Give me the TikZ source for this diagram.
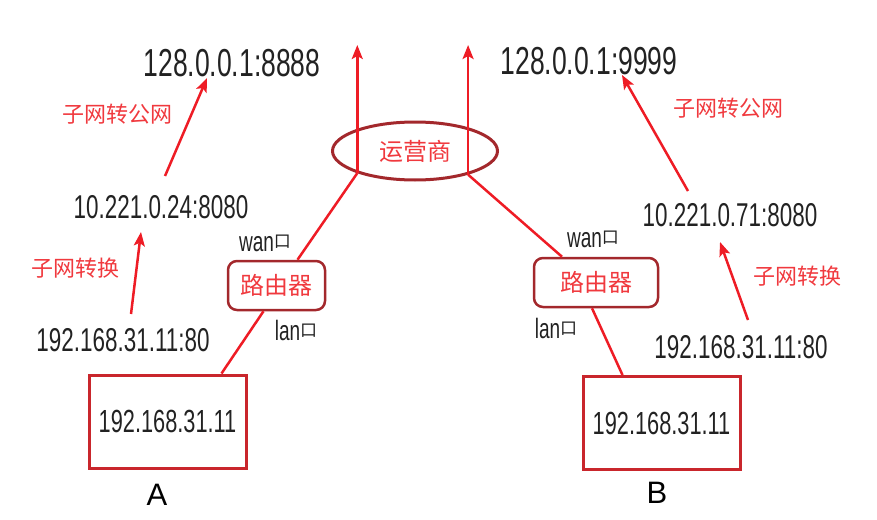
\documentclass[tikz,border=0pt]{standalone}
\usepackage{fontspec}
\setmainfont{Liberation Sans}
\newfontfamily\ipfont[FakeStretch=0.68]{Liberation Sans}
\newfontfamily\cjk{Noto Sans CJK SC}
\usetikzlibrary{arrows.meta, shapes.geometric, calc}
\definecolor{linered}{HTML}{EE1C25}
\definecolor{boxred}{HTML}{C9262C}
\definecolor{ovalred}{HTML}{A3282C}
\definecolor{notered}{HTML}{F0393E}
\definecolor{ipgray}{HTML}{222222}
\newcommand{\portsq}{\raisebox{4pt}{\cjk\fontsize{17}{17}\selectfont 口}}

\begin{document}
\begin{tikzpicture}[x=1pt, y=-1pt]
	\tikzset{
		ip/.style={font={\ipfont\fontsize{33}{36}\selectfont}, text=ipgray, inner sep=0pt},
		ipbig/.style={ip, font={\ipfont\fontsize{39}{42}\selectfont}},
		note/.style={font={\cjk\fontsize{22}{24}\selectfont}, text=notered, inner sep=0pt},
		port/.style={font={\ipfont\fontsize{28}{30}\selectfont}, text=ipgray, inner sep=0pt},
		hostbox/.style={draw=boxred, line width=3pt, minimum width=157pt, minimum height=93pt, font={\ipfont\fontsize{32}{34}\selectfont}, text=ipgray},
		router/.style={draw=ovalred, line width=2.5pt, rounded corners=9pt, minimum height=49pt, font={\cjk\fontsize{24}{26}\selectfont}, text=notered},
		isp/.style={ellipse, draw=ovalred, line width=3pt, minimum width=165pt, minimum height=58pt, font={\cjk\fontsize{24}{26}\selectfont}, text=notered},
		tag/.style={font={\fontsize{31}{33}\selectfont}, text=black, inner sep=0pt},
		link/.style={draw=linered, line width=2.5pt},
		redarrow/.style={link, -{Stealth[length=14pt, width=11pt, inset=3pt]}}
	}
	\useasboundingbox (0,0) rectangle (877,519);

	% 公网地址
	\node[ipbig] (pubA) at (232,63) {128.0.0.1:8888};
	\node[ipbig] (pubB) at (589,61) {128.0.0.1:9999};
	% 子网地址
	\node[ip] (subA) at (161,207) {10.221.0.24:8080};
	\node[ip] (subB) at (730,215) {10.221.0.71:8080};
	% 局域网地址
	\node[ip] (lanipA) at (123,340) {192.168.31.11:80};
	\node[ip] (lanipB) at (741,347) {192.168.31.11:80};

	\node[isp] (isp) at (415,151) {运营商};
	\node[router, minimum width=97pt] (routerA) at (276.5,285.5) {路由器};
	\node[router, minimum width=124pt] (routerB) at (596,282.5) {路由器};
	\node[hostbox] (hostA) at (167.5,421.5) {192.168.31.11};
	\node[hostbox] (hostB) at (661.5,423) {192.168.31.11};

	\node[port] (wanA) at (265,243) {wan\portsq};
	\node[port] (lanA) at (296,330) {lan\portsq};
	\node[port] (wanB) at (593,239) {wan\portsq};
	\node[port] (lanB) at (556,328) {lan\portsq};

	\node[note] (noteA1) at (117,114) {子网转公网};
	\node[note] (noteA2) at (75,268) {子网转换};
	\node[note] (noteB1) at (728,108) {子网转公网};
	\node[note] (noteB2) at (797,276) {子网转换};

	\node[tag] (tagA) at (157,495) {A};
	\node[tag] (tagB) at (657,493) {B};

	% 主机 → 路由器 → 运营商
	\draw[link] ([xshift=54pt]hostA.north) -- ([xshift=-13pt]routerA.south);
	\draw[link] ([xshift=21pt]routerA.north) -- (isp.201);
	\draw[link] ([xshift=-39pt]hostB.north) -- ([xshift=-4pt]routerB.south);
	\draw[link] ([xshift=-34pt]routerB.north) -- (isp.336);

	% 出口
	\coordinate (topL) at (359,45);
	\draw[redarrow] (isp.201) -- (isp.201 |- topL);
	\draw[redarrow] (isp.336) -- (isp.336 |- topL);

	% 地址转换
	\draw[redarrow] ([shift={(8,-26)}]lanipA.center) -- ([shift={(-20,25)}]subA.center);
	\draw[redarrow] ([shift={(4,-31)}]subA.center) -- ([shift={(-25,15)}]pubA.center);
	\draw[redarrow] ([shift={(7,-27)}]lanipB.center) -- ([shift={(-10,27)}]subB.center);
	\draw[redarrow] ([shift={(-42,-24)}]subB.center) -- ([shift={(33,14)}]pubB.center);
\end{tikzpicture}
\end{document}
